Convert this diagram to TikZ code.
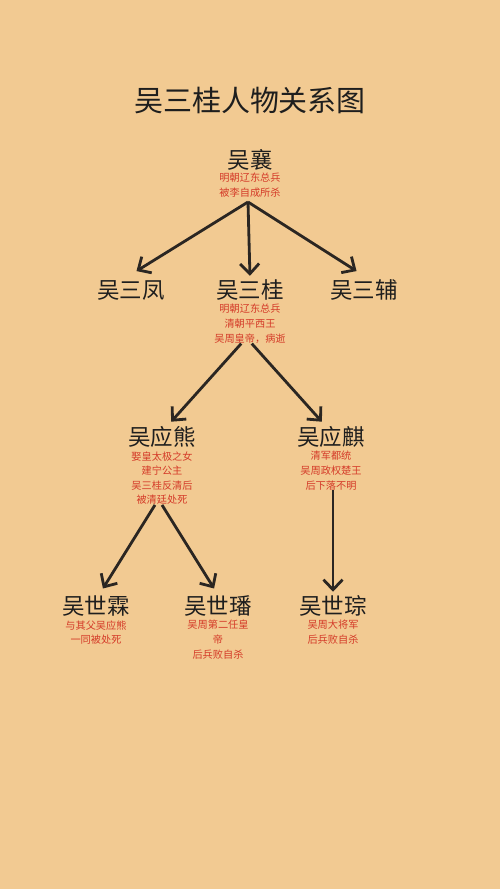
\documentclass[tikz,border=0pt]{standalone}
\usepackage{fontspec}
\setmainfont{Noto Sans CJK SC}
\usetikzlibrary{arrows.meta}

\definecolor{paper}{HTML}{F2CA92}
\definecolor{inkdark}{HTML}{1E1E1E}
\definecolor{notered}{HTML}{D43A28}
\definecolor{arrowdark}{HTML}{2B2622}

\begin{document}
\begin{tikzpicture}[x=0.02cm,y=-0.02cm]

\tikzset{
  titletext/.style={
    font=\fontsize{16.5}{18}\selectfont,
    text=inkdark
  },
  person/.style={
    font=\fontsize{12.8}{14}\selectfont,
    text=inkdark,
    inner sep=1pt
  },
  note/.style={
    font=\fontsize{5.8}{8.3}\selectfont,
    text=notered,
    align=center,
    anchor=north,
    inner sep=0pt
  },
  link/.style={
    arrowdark,
    line width=1.6pt,
    -{Straight Barb[length=2mm,width=3.8mm]},
    shorten >=1pt
  }
}

% Background paper
\fill[paper] (0,0) rectangle (500,889);
\useasboundingbox (0,0) rectangle (500,889);

% Title
\node[titletext] (title) at (250,100) {吴三桂人物关系图};

%%%%%%%%%%%%%%%%%%%%%%%%%%%%%%%%%%%%%%%%%%%%%%%%%%%%%%%%%%%%
%% Generation 1
%%%%%%%%%%%%%%%%%%%%%%%%%%%%%%%%%%%%%%%%%%%%%%%%%%%%%%%%%%%%
\node[person] (xiang) at (250,160) {吴襄};
\node[note] (xiangnote) at (250,173)
  {明朝辽东总兵\\被李自成所杀};

%%%%%%%%%%%%%%%%%%%%%%%%%%%%%%%%%%%%%%%%%%%%%%%%%%%%%%%%%%%%
%% Generation 2
%%%%%%%%%%%%%%%%%%%%%%%%%%%%%%%%%%%%%%%%%%%%%%%%%%%%%%%%%%%%
\node[person] (sanfeng) at (131,290) {吴三凤};
\node[person] (sangui) at (250,290) {吴三桂};
\node[person] (sanfu) at (364,290) {吴三辅};
\node[note] (sanguinote) at (250,304)
  {明朝辽东总兵\\清朝平西王\\吴周皇帝，病逝};

% Arrows from Wu Xiang
\coordinate (xiangout) at (248,202);
\draw[link] (xiangout) -- (135,272);
\draw[link] (xiangout) -- (sangui.north);
\draw[link] (xiangout) -- (358,272);

%%%%%%%%%%%%%%%%%%%%%%%%%%%%%%%%%%%%%%%%%%%%%%%%%%%%%%%%%%%%
%% Generation 3
%%%%%%%%%%%%%%%%%%%%%%%%%%%%%%%%%%%%%%%%%%%%%%%%%%%%%%%%%%%%
\node[person] (yingxiong) at (162,437) {吴应熊};
\node[person] (yingqi) at (331,437) {吴应麒};
\node[note] (yingxiongnote) at (162,451)
  {娶皇太极之女\\建宁公主\\吴三桂反清后\\被清廷处死};
\node[note] (yingqinote) at (331,451)
  {清军都统\\吴周政权楚王\\后下落不明};

% Arrows from Wu Sangui
\draw[link] ([xshift=-5pt]sanguinote.south) -- (170,423);
\draw[link] ([xshift=1pt]sanguinote.south) -- (323,423);

%%%%%%%%%%%%%%%%%%%%%%%%%%%%%%%%%%%%%%%%%%%%%%%%%%%%%%%%%%%%
%% Generation 4
%%%%%%%%%%%%%%%%%%%%%%%%%%%%%%%%%%%%%%%%%%%%%%%%%%%%%%%%%%%%
\node[person] (shilin) at (96,606) {吴世霖};
\node[person] (shifan) at (218,606) {吴世璠};
\node[person] (shicong) at (333,606) {吴世琮};
\node[note] (shilinnote) at (96,620)
  {与其父吴应熊\\一同被处死};
\node[note] (shifannote) at (218,620)
  {吴周第二任皇\\帝\\后兵败自杀};
\node[note] (shicongnote) at (333,620)
  {吴周大将军\\后兵败自杀};

% Arrows from the third generation
\draw[link] ([xshift=-4pt]yingxiongnote.south) -- (102,590);
\draw[link] ([xshift=0pt]yingxiongnote.south) -- (215,590);
\draw[link] (333,490) -- (shicong.north);

\end{tikzpicture}
\end{document}
